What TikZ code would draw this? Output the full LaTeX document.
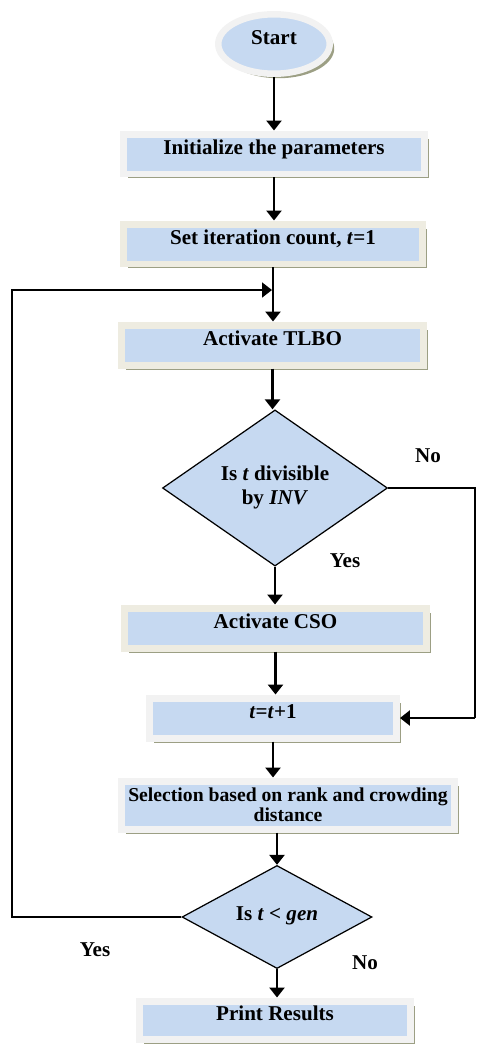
\documentclass[tikz,border=0pt]{standalone}
\usepackage{fontspec}
\setmainfont{Liberation Serif}
\usetikzlibrary{arrows.meta,positioning,calc,shapes.geometric,shadows}
\definecolor{BoxBlue}{HTML}{C6D9F1}
\definecolor{FrameGrey}{HTML}{F2F2F2}
\definecolor{FrameBeige}{HTML}{EEECE1}
\definecolor{ShadowGreen}{HTML}{9C9F84}

\begin{document}
\begin{tikzpicture}[x=0.02cm,y=-0.02cm,
  >={Triangle[width=0.3cm,length=0.2cm]},
  every node/.style={font=\bfseries\fontsize{12}{13.6}\selectfont},
  boxshadow/.style={drop shadow={shadow xshift=0.09cm,shadow yshift=-0.09cm,fill=ShadowGreen,opacity=1}},
  stepbox/.style={rectangle,fill=BoxBlue,draw=FrameGrey,line width=0.14cm,
    minimum width=6.04cm,minimum height=0.8cm,inner sep=2pt,
    text height=8pt,text depth=8pt,boxshadow},
  beige/.style={draw=FrameBeige},
  startnode/.style={ellipse,fill=BoxBlue,draw=FrameGrey,line width=0.13cm,
    minimum width=2.23cm,minimum height=1.19cm,inner sep=0pt,
    text height=8pt,text depth=8pt,boxshadow},
  decision/.style={diamond,fill=BoxBlue,draw=black,line width=0.7pt,inner sep=0pt},
  flow/.style={->,line width=1.5pt},
  loopline/.style={line width=1pt},
  thinline/.style={line width=0.6pt}]
\useasboundingbox (0,0) rectangle (477,1045);

% process steps
\node[startnode] (start) at (274,44) {Start};
\node[stepbox] (init) at (274,154) {Initialize the parameters};
\node[stepbox,beige,minimum width=6cm] (iter) at (273,244) {Set iteration count, \textit{t}=1};
\node[stepbox,beige] (tlbo) at (272.5,345) {Activate TLBO};
\node[decision,minimum width=4.5cm,minimum height=2.8cm] (divis) at (275,488)
  {\raisebox{5pt}{\begin{tabular}{@{}c@{}}Is \textit{t} divisible\\ by \textit{INV}\end{tabular}}};
\node[stepbox,beige] (cso) at (275.5,628) {Activate CSO};
\node[stepbox,minimum width=4.94cm] (incr) at (273,718) {\textit{t}=\textit{t}+1};
\node[stepbox,minimum width=6.66cm,minimum height=0.96cm,text height={},text depth={},
  align=center,font=\bfseries\fontsize{11.2}{11.5}\selectfont] (select) at (288,805)
  {Selection based on rank and crowding\\distance};
\node[decision,minimum width=3.8cm,minimum height=1.58cm] (check) at (277,917)
  {\raisebox{4pt}{Is \textit{t} < \textit{gen}}};
\node[stepbox,minimum width=5.44cm,minimum height=0.76cm] (print) at (275,1020) {Print Results};

% branch labels
\node (noA) at (428,456) {No};
\node (yesA) at (345,561) {Yes};
\node (yesB) at (95,950) {Yes};
\node (noB) at (365,963) {No};

\coordinate (merge) at (272,290);
\coordinate (rail) at (12,0);
\coordinate (edge) at (475,0);

% connectors
\draw[flow] (start.south) -- (start.south |- init.north);
\draw[flow] (init.south) -- (init.south |- iter.north);
\draw[flow] (iter.south) -- (iter.south |- tlbo.north);
\draw[flow] (tlbo.south) -- (tlbo.south |- divis.north);
\draw[flow] (divis.south) -- (divis.south |- cso.north);
\draw[flow] (cso.south) -- (cso.south |- incr.north);
\draw[flow] (incr.south) -- (incr.south |- select.north);
\draw[flow] (check.north |- select.south) -- (check.north);
\draw[flow] (check.south) -- (check.south |- print.north);
\draw[thinline] (divis.east) -| (edge |- incr.east);
\draw[flow] (edge |- incr.east) -- (incr.east);
\draw[loopline,->] (check.west) -| (rail |- merge) -- (merge);
\end{tikzpicture}
\end{document}
